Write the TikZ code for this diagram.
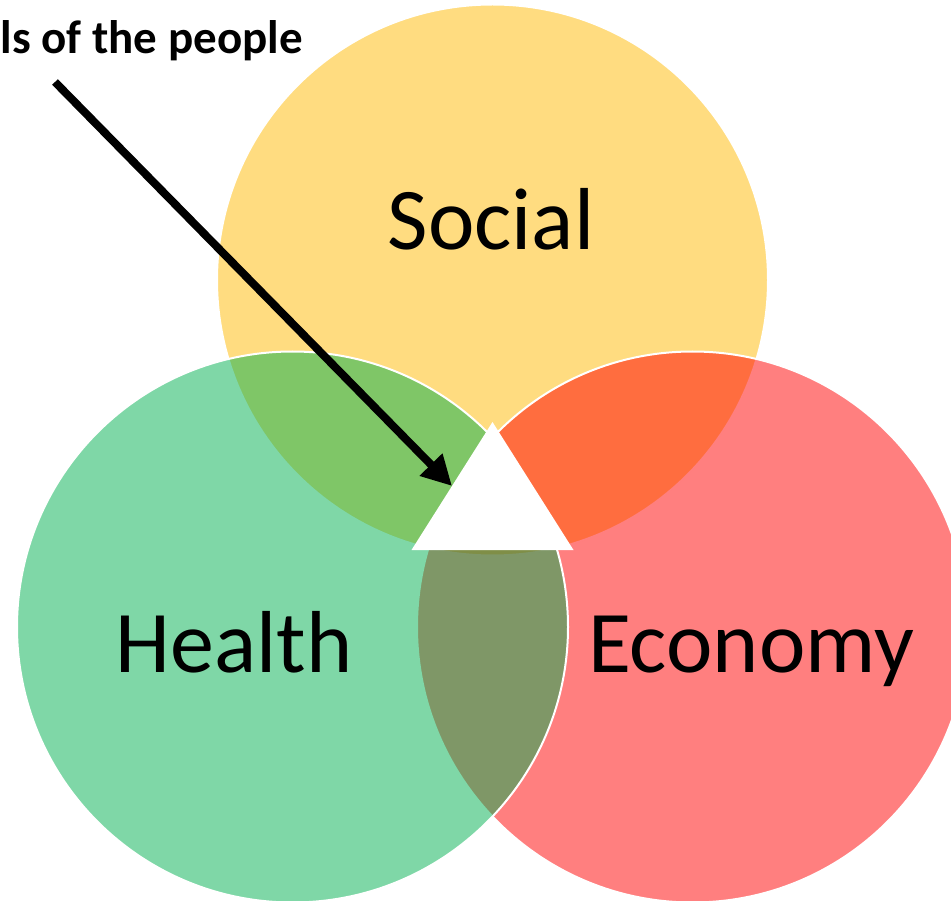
\documentclass[tikz,border=0pt]{standalone}
\usepackage{fontspec}
\setmainfont{Carlito}
\usetikzlibrary{arrows.meta}
\definecolor{socialc}{RGB}{255,185,1}
\definecolor{healthc}{RGB}{0,176,80}
\definecolor{econc}{RGB}{255,0,0}
\tikzset{
  venn/.style={circle, inner sep=0pt, outer sep=0pt, minimum size=551pt,
    draw=white, line width=2pt, fill opacity=0.5, draw opacity=1},
  biglabel/.style={font=\fontsize{88}{96}\selectfont, anchor=base, inner sep=0pt},
  pointer/.style={line width=8pt, -{Triangle[length=30pt, width=30pt]}},
}
\begin{document}
\begin{tikzpicture}[x=1pt, y=-1pt]
\useasboundingbox (0,0) rectangle (951,901);
\node[venn, fill=socialc] (social) at (492.5,280) {};
\node[venn, fill=econc] (economy) at (692.5,627) {};
\node[venn, fill=healthc] (health) at (292.5,627) {};
\fill[white] (492.5,422) coordinate (tritop) -- (411.5,550) coordinate (trileft) -- (573.5,550) coordinate (triright) -- cycle;
\node[biglabel] (lsocial) at (491,250) {Social};
\node[biglabel] (lhealth) at (234,672) {Health};
\node[biglabel] (leconomy) at (751,672) {Economy};
\node[font=\fontsize{47}{52}\selectfont\bfseries, anchor=base west, inner sep=0pt] (ltitle) at (0.5,54) {ls of the people};
\coordinate (astart) at (55,82);
\coordinate (aend) at (452,486);
\draw[pointer] (astart) -- (aend);
\end{tikzpicture}
\end{document}
